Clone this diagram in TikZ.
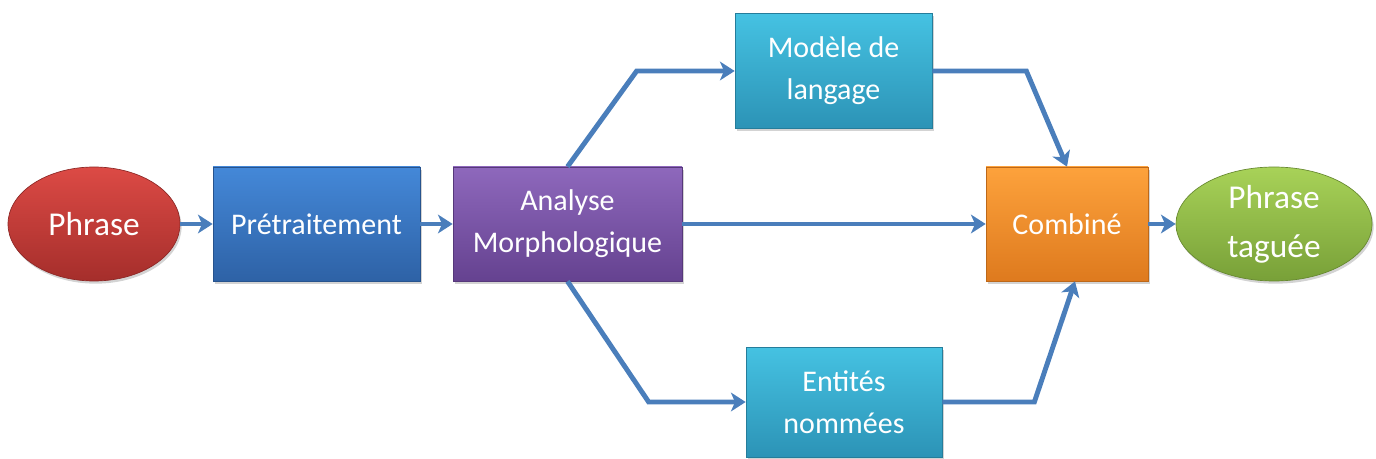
\documentclass[tikz,border=0pt]{standalone}
\usepackage{fontspec}
\setmainfont{Carlito}
\usetikzlibrary{arrows.meta,shapes.geometric,shadows,calc}
\definecolor{arrowblue}{HTML}{4A7EBB}
\definecolor{redT}{HTML}{DC4A45}\definecolor{redB}{HTML}{A52E2B}
\definecolor{blueT}{HTML}{4488D8}\definecolor{blueB}{HTML}{2E62A6}
\definecolor{purT}{HTML}{8E68BC}\definecolor{purB}{HTML}{654290}
\definecolor{cyaT}{HTML}{45C2E2}\definecolor{cyaB}{HTML}{2C93B6}
\definecolor{oraT}{HTML}{FDA23C}\definecolor{oraB}{HTML}{DE7A1E}
\definecolor{greT}{HTML}{A8D258}\definecolor{greB}{HTML}{78A038}
\tikzset{
  base/.style={text=white, align=center, inner sep=0pt,
    drop shadow={shadow xshift=1.2pt, shadow yshift=-2pt, opacity=0.35}},
  boxtxt/.style={font=\fontsize{22.5}{31.5}\selectfont},
  elltxt/.style={font=\fontsize{25}{37}\selectfont},
  rbox/.style={base, boxtxt, rectangle, draw=#1B!85!black, line width=0.5pt, top color=#1T, bottom color=#1B},
  ebox/.style={base, elltxt, ellipse, draw=#1B!85!black, line width=0.5pt, top color=#1T, bottom color=#1B},
  arr/.style={draw=arrowblue, line width=3.7pt, line join=miter,
    -{Stealth[length=11pt,width=14pt,inset=3pt]}},
}
\begin{document}
\begin{tikzpicture}[x=0.75pt,y=-0.75pt]
\useasboundingbox (0,0) rectangle (1376,459);
\node[ebox=red, minimum width=129pt, minimum height=85.5pt] (ph) at (94,224) {Phrase};
\node[rbox=blue, minimum width=155.25pt, minimum height=85.5pt] (pt) at (316.5,224) {Prétraitement};
\node[rbox=pur, minimum width=171.75pt, minimum height=85.5pt] (am) at (567.5,224) {Analyse\\Morphologique};
\node[rbox=cya, minimum width=147.75pt, minimum height=86pt] (ml) at (833.5,71) {Modèle de\\langage};
\node[rbox=cya, minimum width=147pt, minimum height=82.5pt] (en) at (844,402) {Entités\\nommées};
\node[rbox=ora, minimum width=121.5pt, minimum height=85.5pt] (cb) at (1067,224) {Combiné};
\node[ebox=gre, minimum width=147pt, minimum height=85.5pt] (tg) at (1274,224) {Phrase\\taguée};

\draw[arr] (ph.east) -- (ph.east -| pt.west);
\draw[arr] (pt.east) -- (pt.east -| am.west);
\draw[arr] (am.east) -- (am.east -| cb.west);
\draw[arr] (cb.east) -- (cb.east -| tg.west);
\draw[arr] (am.north) -- ($(ml.west)+(-98,0)$) -- (ml.west);
\draw[arr] (ml.east) -- ($(ml.east)+(94,0)$) -- (cb.north);
\draw[arr] (am.south) -- ($(en.west)+(-97,0)$) -- (en.west);
\draw[arr] (en.east) -- ($(en.east)+(92,0)$) -- ([xshift=6pt]cb.south);
\end{tikzpicture}
\end{document}
